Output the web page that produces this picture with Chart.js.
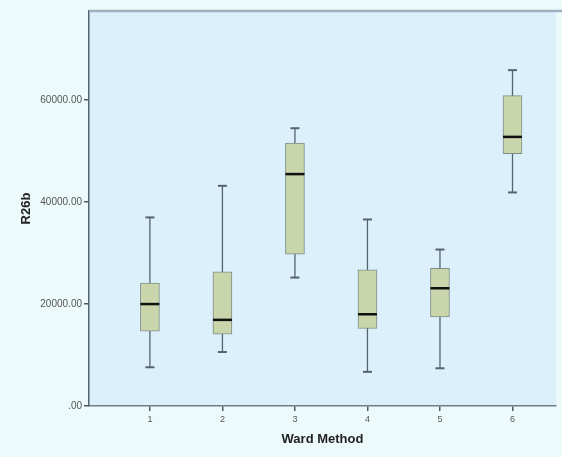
<!DOCTYPE html>
<html>
<head>
<meta charset="utf-8">
<script src="https://cdn.jsdelivr.net/npm/chart.js@4"></script>
<style>
  html, body { margin: 0; padding: 0; background: #edfafc; }
  #wrap { width: 562px; height: 457px; }
</style>
</head>
<body>
<div id="wrap"><canvas id="boxChart" width="562" height="457"></canvas></div>
<script>
// ── Data ──
const groups  = [1, 2, 3, 4, 5, 6];
const mins    = [7600, 10600, 25200, 6700, 7400, 41900];
const q1s     = [14700, 14100, 29800, 15200, 17500, 49500];
const medians = [20000, 16900, 45500, 18000, 23100, 52800];
const q3s     = [24100, 26300, 51600, 26700, 27000, 60900];
const maxs    = [37000, 43200, 54500, 36600, 30700, 65900];
const yTicks  = [0, 20000, 40000, 60000];

// whiskers, caps, medians, frame drawn through the chart scales
const boxExtras = {
  id: 'boxExtras',
  beforeDraw(chart) {
    const { ctx, chartArea: a } = chart;
    ctx.save();
    ctx.fillStyle = '#dcf0fc';
    ctx.fillRect(a.left, a.top, a.right - a.left, a.bottom - a.top);
    ctx.restore();
  },
  beforeDatasetsDraw(chart) {
    const { ctx, scales: { x, y } } = chart;
    ctx.save();
    ctx.strokeStyle = '#55636e';
    ctx.lineWidth = 1.3;
    groups.forEach((g, i) => {
      const px = x.getPixelForValue(g);
      ctx.beginPath();
      ctx.moveTo(px, y.getPixelForValue(mins[i]));
      ctx.lineTo(px, y.getPixelForValue(maxs[i]));
      ctx.stroke();
    });
    ctx.lineWidth = 2;
    groups.forEach((g, i) => {
      const px = x.getPixelForValue(g);
      [mins[i], maxs[i]].forEach(v => {
        const py = y.getPixelForValue(v);
        ctx.beginPath();
        ctx.moveTo(px - 4.5, py);
        ctx.lineTo(px + 4.5, py);
        ctx.stroke();
      });
    });
    ctx.restore();
  },
  afterDatasetsDraw(chart) {
    const { ctx, chartArea: a, scales: { x, y } } = chart;
    ctx.save();
    ctx.strokeStyle = '#111';
    ctx.lineWidth = 2.5;
    groups.forEach((g, i) => {
      const px = x.getPixelForValue(g);
      const py = y.getPixelForValue(medians[i]);
      ctx.beginPath();
      ctx.moveTo(px - 9.5, py);
      ctx.lineTo(px + 9.5, py);
      ctx.stroke();
    });
    // top frame line
    ctx.strokeStyle = '#9cb1bd';
    ctx.lineWidth = 2.5;
    ctx.beginPath();
    ctx.moveTo(a.left, a.top);
    ctx.lineTo(chart.width, a.top);
    ctx.stroke();
    ctx.restore();
  }
};

new Chart(document.getElementById('boxChart'), {
  type: 'bar',
  data: {
    datasets: [{
      data: groups.map((g, i) => ({ x: g, y: [q1s[i], q3s[i]] })),
      backgroundColor: '#c9d5aa',
      borderColor: '#7f8c86',
      borderWidth: 1,
      borderSkipped: false,
      barThickness: 19
    }]
  },
  options: {
    responsive: false,
    animation: false,
    events: [],
    layout: { padding: { left: 15, top: 11, right: 6, bottom: 6 } },
    plugins: {
      legend: { display: false },
      tooltip: { enabled: false }
    },
    scales: {
      x: {
        type: 'linear',
        offset: false,
        min: 0.16,
        max: 6.6,
        afterBuildTicks: s => { s.ticks = groups.map(v => ({ value: v })); },
        afterFit: s => { s.height = 45; },
        grid: { drawOnChartArea: false, offset: false, tickLength: 5, lineWidth: 1.5, color: '#4a5660' },
        border: { display: true, color: '#6f7d88', width: 1.5 },
        ticks: {
          color: '#555',
          font: { family: 'Liberation Sans', size: 9 },
          padding: 3,
          maxRotation: 0,
          callback: v => String(v)
        },
        title: {
          display: true,
          text: 'Ward Method',
          color: '#222',
          font: { family: 'Liberation Sans', size: 13, weight: 'bold' },
          padding: { top: 4, bottom: 4 }
        }
      },
      y: {
        min: 0,
        max: 77500,
        afterBuildTicks: s => { s.ticks = yTicks.map(v => ({ value: v })); },
        afterFit: s => { s.width = 74; },
        grid: { drawOnChartArea: false, tickLength: 5, lineWidth: 1.5, color: '#4a5660' },
        border: { display: true, color: '#55636e', width: 1.5 },
        ticks: {
          color: '#555',
          font: { family: 'Liberation Sans', size: 10 },
          padding: 2,
          callback: v => v === 0 ? '.00' : v.toFixed(2)
        },
        title: {
          display: true,
          text: 'R26b',
          color: '#222',
          font: { family: 'Liberation Sans', size: 13, weight: 'bold' },
          padding: { top: 4, bottom: 4 }
        }
      }
    }
  },
  plugins: [boxExtras]
});
</script>
</body>
</html>
